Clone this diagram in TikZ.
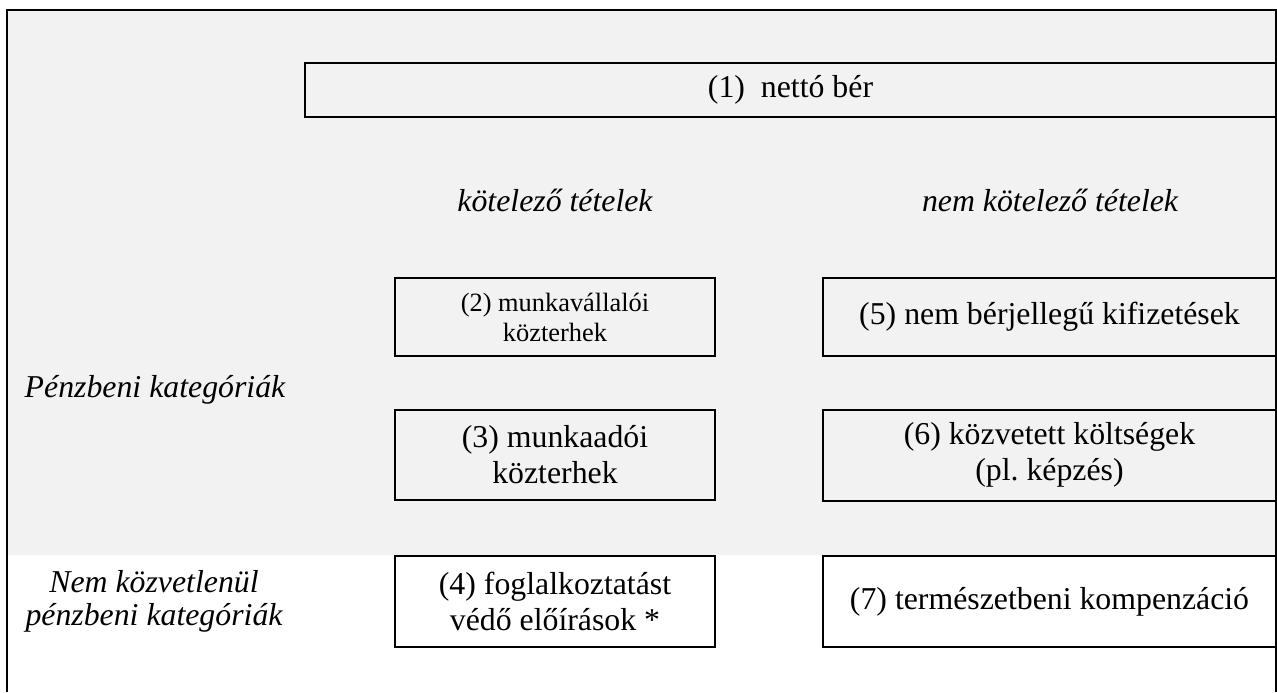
\documentclass[tikz,border=0pt]{standalone}
\usepackage{fontspec}
\setmainfont{Liberation Serif}
\usepackage{tikz}
\usetikzlibrary{positioning}
\definecolor{panelgray}{RGB}{242,242,242}
\newcommand{\boxfont}{\fontsize{15.9}{18}\selectfont}
\newcommand{\smallboxfont}{\fontsize{13.2}{15}\selectfont}
\newcommand{\catfont}{\fontsize{15.9}{16.5}\selectfont\itshape}

\begin{document}
\begin{tikzpicture}[
    x=0.5pt, y=-0.5pt,
    item/.style={rectangle, draw, line width=1pt, outer sep=0pt, inner sep=0pt, align=center, font=\boxfont},
    leftitem/.style={item, minimum width=160pt},
    rightitem/.style={item, minimum width=226.5pt},
    cat/.style={align=center, inner sep=0pt, font=\catfont}
]
\useasboundingbox (0,0) rectangle (1277,692);

% Background and frame
\fill[panelgray] (7,10) rectangle (1276,555);
\draw[line width=1pt] (7,692) -- (7,10) -- (1276,10) -- (1276,692);

% Top block
\node[item, minimum width=485.5pt, minimum height=27pt] (net) at (790.5,90) {(1)\ \ nettó bér};

% Column headings
\node[cat] (oblig) at (555,200) {kötelező tételek};
\node[cat] (nonoblig) at (1050,200) {nem kötelező tételek};

% Mandatory items
\node[leftitem, minimum height=39pt, font=\smallboxfont] (empl) at (555,317) {(2) munkavállalói\\közterhek};
\node[leftitem, minimum height=45pt, below=27pt of empl] (employer) {(3) munkaadói\\közterhek};
\node[leftitem, minimum height=45.5pt, below=28pt of employer] (protect) {(4) foglalkoztatást\\védő előírások *};

% Non-mandatory items
\node[rightitem, minimum height=39pt, right=54pt of empl] (nonwage) {(5) nem bérjellegű kifizetések};
\node[rightitem, minimum height=45.5pt, right=54pt of employer] (indirect) {(6) közvetett költségek\\(pl.\ képzés)};
\node[rightitem, minimum height=45.5pt, right=54pt of protect] (inkind) {(7) természetbeni kompenzáció};

% Row labels
\node[cat] (money) at (155,390) {Pénzbeni kategóriák};
\node[cat] (nonmoney) at (154,601) {Nem közvetlenül\\pénzbeni kategóriák};

\end{tikzpicture}
\end{document}
